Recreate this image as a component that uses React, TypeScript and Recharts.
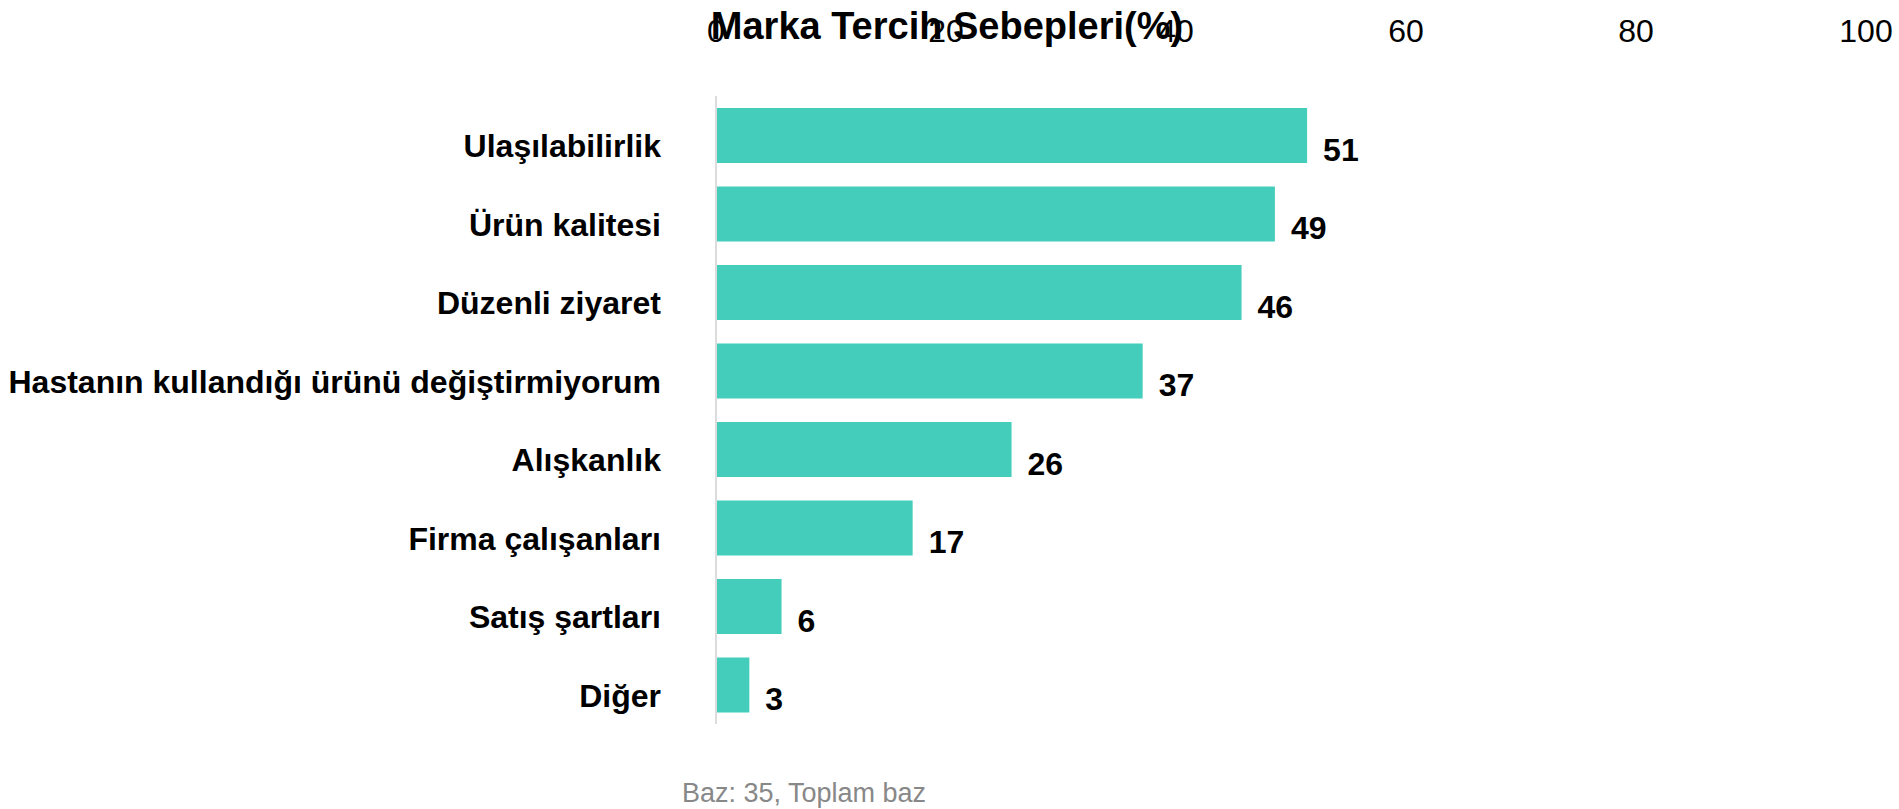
import { BarChart, Bar, XAxis, YAxis, LabelList } from "recharts";

const reasons = [
  "Ulaşılabilirlik",
  "Ürün kalitesi",
  "Düzenli ziyaret",
  "Hastanın kullandığı ürünü değiştirmiyorum",
  "Alışkanlık",
  "Firma çalışanları",
  "Satış şartları",
  "Diğer",
];
// percentages of base 35
const shares = [51.4, 48.6, 45.7, 37.1, 25.7, 17.1, 5.7, 2.9];
const axisTicks = [0, 20, 40, 60, 80, 100];

const chartTitle = "Marka Tercih Sebepleri(%)";
const footNote = "Baz: 35, Toplam baz";

const FONT = "'Liberation Sans', Arial, Helvetica, sans-serif";
const BAR_COLOR = "#45cdbb";

const data = reasons.map((name, i) => ({ name, value: shares[i] }));

const CategoryTick = (props: any) => {
  const { x, y, payload } = props;
  return (
    <text
      x={x - 47}
      y={y + 22}
      textAnchor="end"
      fontFamily={FONT}
      fontWeight={700}
      fontSize={32}
      fill="#000"
    >
      {payload.value}
    </text>
  );
};

const ScaleTick = (props: any) => {
  const { x, payload } = props;
  return (
    <text x={x} y={42} textAnchor="middle" fontFamily={FONT} fontSize={32} fill="#000">
      {payload.value}
    </text>
  );
};

const ValueLabel = (props: any) => {
  const { x, y, width, height, value } = props;
  return (
    <text
      x={x + width + 16}
      y={y + height / 2 + 25}
      fontFamily={FONT}
      fontWeight={700}
      fontSize={32}
      fill="#000"
    >
      {Math.round(value)}
    </text>
  );
};

export default function App() {
  return (
    <div style={{ position: "absolute", left: 0, top: 0, width: 1899, height: 809, background: "#fff" }}>
      <BarChart
        layout="vertical"
        data={data}
        width={1899}
        height={809}
        margin={{ top: 66, right: 33, left: 0, bottom: 85 }}
      >
        <XAxis
          type="number"
          orientation="top"
          domain={[0, 100]}
          ticks={axisTicks}
          axisLine={false}
          tickLine={false}
          tick={<ScaleTick />}
          height={30}
          interval={0}
        />
        <YAxis
          type="category"
          dataKey="name"
          width={716}
          axisLine={{ stroke: "#dcdcdc", strokeWidth: 2 }}
          tickLine={false}
          tick={<CategoryTick />}
          interval={0}
        />
        <Bar dataKey="value" fill={BAR_COLOR} barSize={55} isAnimationActive={false}>
          <LabelList dataKey="value" content={<ValueLabel />} />
        </Bar>
      </BarChart>
      <svg
        width={1899}
        height={809}
        style={{ position: "absolute", left: 0, top: 0, pointerEvents: "none" }}
      >
        <text x={947} y={39} textAnchor="middle" fontFamily={FONT} fontWeight={700} fontSize={38} fill="#000">
          {chartTitle}
        </text>
        <text x={804} y={802} textAnchor="middle" fontFamily={FONT} fontSize={27} fill="#888">
          {footNote}
        </text>
      </svg>
    </div>
  );
}
